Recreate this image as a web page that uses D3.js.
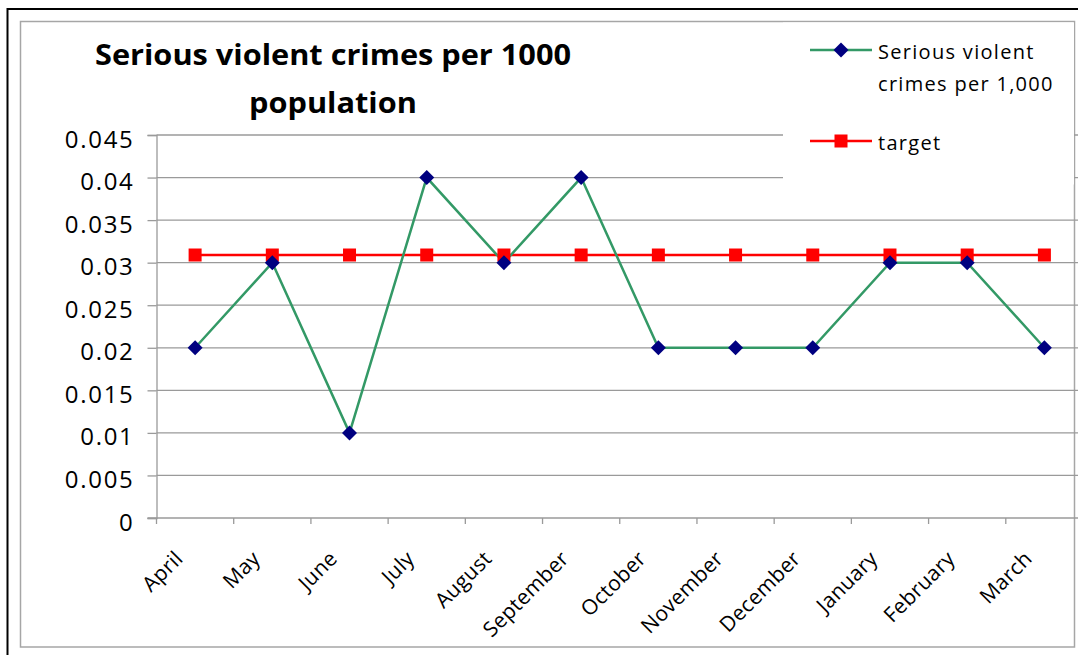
<!DOCTYPE html>
<html>
<head>
<meta charset="utf-8">
<script src="https://cdn.jsdelivr.net/npm/d3@7"></script>
<style>
  html, body { margin: 0; padding: 0; background: #fff; }
  svg { display: block; }
  text { font-family: "Open Sans", Lato, sans-serif; fill: #000; }
</style>
</head>
<body>
<svg id="chart" width="1078" height="655"></svg>
<script>
// Monthly figures, April through March
const months = ["April", "May", "June", "July", "August", "September",
                "October", "November", "December", "January", "February", "March"];
const crimeRate = [0.02, 0.03, 0.01, 0.04, 0.03, 0.04, 0.02, 0.02, 0.02, 0.03, 0.03, 0.02];
const targetRate = [0.0309, 0.0309, 0.0309, 0.0309, 0.0309, 0.0309,
                    0.0309, 0.0309, 0.0309, 0.0309, 0.0309, 0.0309];
const yTicks = [0, 0.005, 0.01, 0.015, 0.02, 0.025, 0.03, 0.035, 0.04, 0.045];
const titleLines = ["Serious violent crimes per 1000", "population"];
const legendItems = [
  { lines: ["Serious violent", "crimes per 1,000"], kind: "crime" },
  { lines: ["target"], kind: "target" }
];

const svg = d3.select("#chart");

// Outer frame and chart area
svg.append("rect").attr("x", 7.5).attr("y", 9).attr("width", 1080).attr("height", 660)
  .attr("fill", "none").attr("stroke", "#000").attr("stroke-width", 2);
svg.append("rect").attr("x", 20.5).attr("y", 21.5).attr("width", 1054).attr("height", 625.5)
  .attr("fill", "#fff").attr("stroke", "#a6a6a6").attr("stroke-width", 1.5);

const plot = { left: 156.5, right: 1083, top: 135, bottom: 518 };

const x = d3.scaleBand().domain(months).range([plot.left, plot.right]).paddingInner(0).paddingOuter(0);
const y = d3.scaleLinear().domain([0, 0.045]).range([plot.bottom, plot.top]);
const cx = d => x(d) + x.bandwidth() / 2;

// Horizontal gridlines
svg.append("g").selectAll("line").data(yTicks.filter(t => t > 0)).join("line")
  .attr("x1", plot.left).attr("x2", plot.right)
  .attr("y1", d => y(d)).attr("y2", d => y(d))
  .attr("stroke", "#9a9a9a").attr("stroke-width", 1.3);

// Y axis
const yAxis = svg.append("g").attr("transform", `translate(${plot.left},0)`)
  .call(d3.axisLeft(y).tickValues(yTicks).tickSize(9).tickPadding(13)
    .tickFormat(d => d === 0 ? "0" : String(+d.toFixed(3))));
yAxis.select(".domain").attr("stroke", "#9a9a9a").attr("stroke-width", 1.3);
yAxis.selectAll(".tick line").attr("stroke", "#9a9a9a").attr("stroke-width", 1.3);
yAxis.selectAll(".tick text").attr("font-size", 24).attr("font-family", "'Open Sans', sans-serif")
  .attr("letter-spacing", 1.7).attr("fill", "#000").attr("dy", "0.5em");

// X axis with ticks between categories
const boundaries = months.map(m => x(m));
const xAxis = svg.append("g").attr("transform", `translate(0,${plot.bottom})`);
xAxis.append("line").attr("x1", plot.left - 9).attr("x2", plot.right)
  .attr("stroke", "#9a9a9a").attr("stroke-width", 1.3);
xAxis.selectAll("line.tk").data(boundaries).join("line").attr("class", "tk")
  .attr("x1", d => d).attr("x2", d => d).attr("y1", 0).attr("y2", 6)
  .attr("stroke", "#9a9a9a").attr("stroke-width", 1.3);
xAxis.selectAll("text").data(months).join("text")
  .attr("transform", d => `translate(${cx(d) - 11},${42}) rotate(-45)`)
  .attr("text-anchor", "end")
  .attr("font-size", 21)
  .attr("letter-spacing", 0.3)
  .text(d => d);

// Target line
const lineGen = vals => d3.line().x((d, i) => cx(months[i])).y(d => y(d))(vals);
svg.append("path").attr("d", lineGen(targetRate))
  .attr("fill", "none").attr("stroke", "#ff0000").attr("stroke-width", 2.5);

// Crime rate line
svg.append("path").attr("d", lineGen(crimeRate))
  .attr("fill", "none").attr("stroke", "#339966").attr("stroke-width", 2.5);

// Markers
const sq = 13;
svg.append("g").selectAll("rect").data(targetRate).join("rect")
  .attr("x", (d, i) => cx(months[i]) - sq / 2).attr("y", d => y(d) - sq / 2)
  .attr("width", sq).attr("height", sq).attr("fill", "#ff0000");
const dm = 7.5;
const diamond = `M0,${-dm}L${dm},0L0,${dm}L${-dm},0Z`;
svg.append("g").selectAll("path").data(crimeRate).join("path")
  .attr("transform", (d, i) => `translate(${cx(months[i])},${y(d)})`)
  .attr("d", diamond).attr("fill", "#000080");

// Title: both lines share one horizontal stretch factor
const titleText = svg.append("g").selectAll("text").data(titleLines).join("text")
  .attr("x", 333).attr("y", (d, i) => 65 + i * 48)
  .attr("text-anchor", "middle").attr("font-size", 28).attr("font-weight", "bold")
  .text(d => d);
const titleStretch = 476 / titleText.nodes()[0].getComputedTextLength();
titleText.each(function () {
  const w = this.getComputedTextLength();
  d3.select(this).attr("textLength", w * titleStretch).attr("lengthAdjust", "spacingAndGlyphs");
});

// Legend
const legend = svg.append("g");
legend.append("rect").attr("x", 783).attr("y", 22.5).attr("width", 291).attr("height", 162)
  .attr("fill", "#fff");
const legendY = [50, 141];
legendItems.forEach((item, k) => {
  const ly = legendY[k];
  const color = item.kind === "crime" ? "#339966" : "#ff0000";
  legend.append("line").attr("x1", 810).attr("x2", 872).attr("y1", ly).attr("y2", ly)
    .attr("stroke", color).attr("stroke-width", 2.5);
  if (item.kind === "crime") {
    legend.append("path").attr("transform", `translate(841,${ly})`).attr("d", diamond).attr("fill", "#000080");
  } else {
    legend.append("rect").attr("x", 841 - sq / 2).attr("y", ly - sq / 2)
      .attr("width", sq).attr("height", sq).attr("fill", "#ff0000");
  }
  item.lines.forEach((t, j) => {
    legend.append("text").attr("x", 878).attr("y", ly + 9 + j * 32)
      .attr("font-size", 20).attr("letter-spacing", 1.3).text(t);
  });
});
</script>
</body>
</html>
